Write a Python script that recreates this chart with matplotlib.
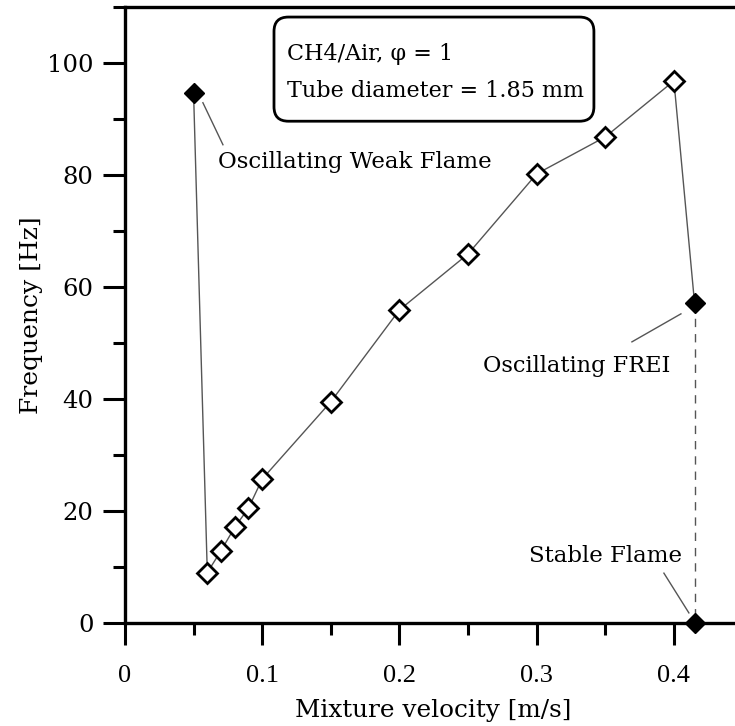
import numpy as np
import matplotlib
matplotlib.use("Agg")
import matplotlib.pyplot as plt
from matplotlib.patches import FancyBboxPatch
from matplotlib.ticker import MultipleLocator

# Measured oscillation frequencies (open diamonds)
vel = [0.06, 0.07, 0.08, 0.09, 0.10, 0.15, 0.20, 0.25, 0.30, 0.35, 0.40]
freq = [9.0, 12.9, 17.1, 20.5, 25.7, 39.5, 55.9, 65.9, 80.2, 86.8, 96.8]

# Special regimes (filled diamonds)
weak_v, weak_f = 0.05, 94.6
frei_v, frei_f = 0.415, 57.2
stable_v, stable_f = 0.415, 0.0

serif = "DejaVu Serif"
times = "Liberation Serif"

fig = plt.figure(figsize=(7.35, 7.26), dpi=100)
ax = fig.add_axes([0.170, 0.1419, 0.830, 0.8485])

# connecting line through all states
line_v = [weak_v] + vel + [frei_v]
line_f = [weak_f] + freq + [frei_f]
ax.plot(line_v, line_f, color="#555555", lw=1.0, zorder=2)
ax.plot([frei_v, stable_v], [frei_f, stable_f], color="#555555", lw=1.0,
        ls=(0, (6, 5)), zorder=2)

ax.plot(vel, freq, ls="none", marker="D", ms=10.5, mfc="white", mec="black",
        mew=2.0, zorder=3)
ax.plot([weak_v, frei_v, stable_v], [weak_f, frei_f, stable_f], ls="none",
        marker="D", ms=10.5, mfc="black", mec="black", mew=1.0, zorder=4,
        clip_on=False)

ax.set_xlim(0, 0.4445)
ax.set_ylim(0, 110)

ax.xaxis.set_minor_locator(MultipleLocator(0.05))
ax.yaxis.set_minor_locator(MultipleLocator(10))
ax.set_xticks([0, 0.1, 0.2, 0.3, 0.4])
ax.set_xticklabels(["0", "0.1", "0.2", "0.3", "0.4"], family=times, fontsize=19)
ax.set_yticks([0, 20, 40, 60, 80, 100])
ax.set_yticklabels(["0", "20", "40", "60", "80", "100"], family=serif, fontsize=17.5)

ax.tick_params(which="major", direction="out", length=15.5, width=2.2)
ax.tick_params(which="minor", direction="out", length=8.5, width=2.2)
ax.tick_params(axis="x", which="major", pad=15)
ax.tick_params(axis="y", which="major", pad=7)
for side in ["left", "bottom", "top"]:
    ax.spines[side].set_linewidth(2.4)
ax.spines["right"].set_visible(False)

ax.set_xlabel("Mixture velocity [m/s]", family=serif, fontsize=17.8, va="baseline")
ax.xaxis.set_label_coords(0.505, -0.1526)
ax.set_ylabel("Frequency [Hz]", family=serif, fontsize=18)
ax.yaxis.set_label_coords(-0.134, 0.5)

# info box
box = FancyBboxPatch((0.1086, 89.6), 0.3417 - 0.1086, 108.2 - 89.6,
                     boxstyle="round,pad=0,rounding_size=0.0105",
                     mutation_aspect=245, fc="white", ec="black", lw=2.0,
                     zorder=5)
ax.add_patch(box)
ax.text(0.118, 100.5, "CH4/Air, \u03c6 = 1", family=serif, fontsize=16,
        va="baseline", ha="left", zorder=6)
ax.text(0.118, 93.9, "Tube diameter = 1.85 mm", family=serif, fontsize=16,
        va="baseline", ha="left", zorder=6)

# callout leader lines
leaders = [((0.0568, 92.9), (0.0714, 85.4)),
           ((0.4051, 55.2), (0.3694, 50.2)),
           ((0.4109, 1.8), (0.3927, 8.9))]
for (x0, y0), (x1, y1) in leaders:
    ax.plot([x0, x1], [y0, y1], color="#555555", lw=1.0, zorder=2)

ax.text(0.0678, 81.25, "Oscillating Weak Flame", family=serif, fontsize=16.5,
        ha="left", va="baseline")
ax.text(0.3971, 44.8, "Oscillating FREI", family=serif, fontsize=16.2,
        ha="right", va="baseline")
ax.text(0.4058, 10.9, "Stable Flame", family=serif, fontsize=16.5,
        ha="right", va="baseline")

fig.savefig("out.png", dpi=100)
